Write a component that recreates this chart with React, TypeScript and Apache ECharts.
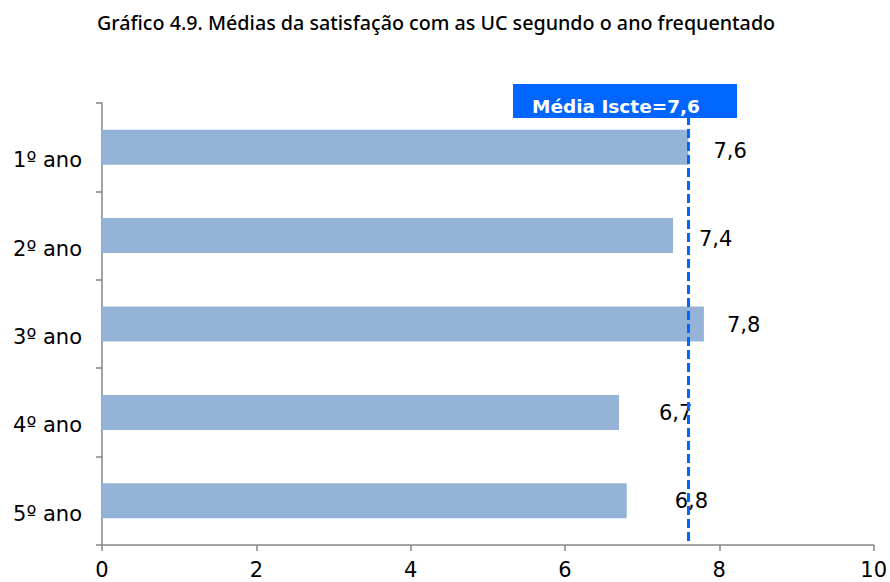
import React, { useEffect, useRef } from "react";
import * as echarts from "echarts";

const categories = ["1º ano", "2º ano", "3º ano", "4º ano", "5º ano"];
const values = [7.6, 7.4, 7.8, 6.7, 6.8];
const valueLabels = ["7,6", "7,4", "7,8", "6,7", "6,8"];
const meanValue = 7.6;
const meanLabel = "Média Iscte=7,6";
const xTicks = [0, 2, 4, 6, 8, 10];
const title = "Gráfico 4.9. Médias da satisfação com as UC segundo o ano frequentado";

// label placement tweaks (style, not data)
const labelDistances = [25, 26, 23, 40, 48];
const labelDy = [4, 3, 1, 1, 0];

export default function App() {
  const ref = useRef<HTMLDivElement>(null);
  useEffect(() => {
    if (!ref.current) return;
    const chart = echarts.init(ref.current, null, { renderer: "svg" });
    chart.setOption({
      animation: false,
      backgroundColor: "#ffffff",
      title: {
        text: title,
        left: 97,
        top: 12,
        padding: 0,
        textStyle: {
          fontFamily: "Noto Sans",
          fontSize: 19.7,
          fontWeight: 500,
          color: "#000000",
        },
      },
      grid: { left: 102, right: 16, top: 103, bottom: 37 },
      xAxis: {
        type: "value",
        min: 0,
        max: 10,
        interval: 2,
        splitLine: { show: false },
        axisLine: { show: true, lineStyle: { color: "#868686", width: 1.5 } },
        axisTick: { show: true, length: 6, lineStyle: { color: "#868686", width: 1.5 } },
        axisLabel: {
          fontFamily: "DejaVu Sans",
          fontSize: 21,
          color: "#000000",
          margin: 14,
          formatter: (v: number) => (xTicks.includes(v) ? String(v) : ""),
        },
      },
      yAxis: {
        type: "category",
        data: categories,
        inverse: true,
        axisLine: { show: true, lineStyle: { color: "#868686", width: 1.5 } },
        axisTick: { show: true, length: 6, lineStyle: { color: "#868686", width: 1.5 } },
        axisLabel: {
          fontFamily: "DejaVu Sans",
          fontSize: 21,
          color: "#000000",
          margin: 20,
          verticalAlign: "top",
          lineHeight: 26,
        },
      },
      series: [
        {
          type: "bar",
          barWidth: 35,
          itemStyle: { color: "#95B3D7" },
          data: values.map((v, i) => ({
            value: v,
            label: {
              show: true,
              position: "right",
              distance: labelDistances[i],
              offset: [0, labelDy[i]],
              formatter: valueLabels[i],
              fontFamily: "DejaVu Sans",
              fontSize: 21,
              color: "#000000",
            },
          })),
          markLine: {
            silent: true,
            symbol: "none",
            label: { show: false },
            lineStyle: { color: "#0066FF", width: 3, type: [9, 4] },
            data: [{ xAxis: meanValue }],
            z: 10,
          },
        },
      ],
      graphic: [
        {
          type: "rect",
          z: 100,
          shape: { x: 513, y: 84, width: 224, height: 34 },
          style: { fill: "#0066FF" },
        },
        {
          type: "text",
          z: 101,
          x: 532,
          y: 106,
          style: {
            text: meanLabel,
            fill: "#ffffff",
            fontFamily: "DejaVu Sans",
            fontWeight: "bold",
            fontSize: 18.5,
            verticalAlign: "middle",
            align: "left",
          },
        },
      ],
    });
    return () => chart.dispose();
  }, []);
  return <div ref={ref} style={{ width: 890, height: 582, position: "absolute", left: 0, top: 0 }} />;
}
